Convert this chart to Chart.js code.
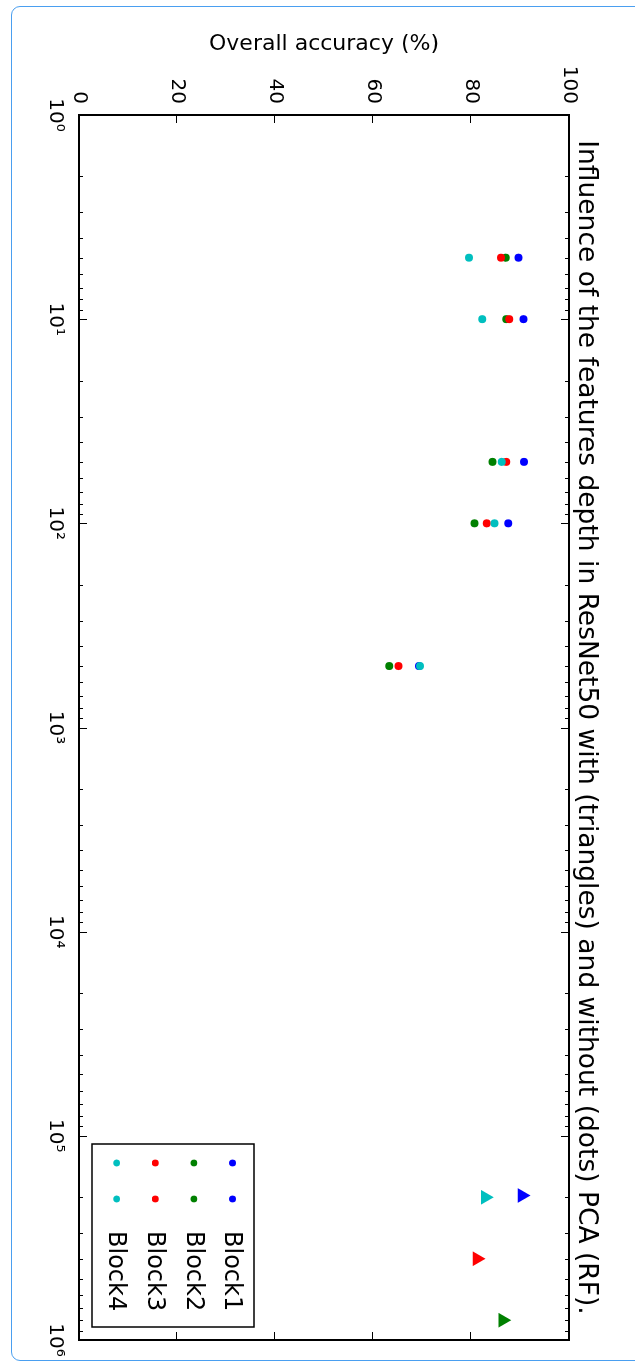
<!DOCTYPE html>
<html>
<head>
<meta charset="utf-8">
<script src="https://cdn.jsdelivr.net/npm/chart.js@4"></script>
<style>
  html, body { margin: 0; padding: 0; background: #fff; overflow: hidden; }
  body { width: 635px; height: 1362px; position: relative; }
  #frame {
    position: absolute; left: 11px; top: 6px; width: 700px; height: 1353px;
    border: 1px solid #4a9ff0; border-radius: 9px;
  }
  /* the figure is drawn lying down and turned a quarter clockwise */
  #wrap {
    position: absolute; left: 0; top: 0; width: 1362px; height: 635px;
    transform-origin: 0 0; transform: translateX(635px) rotate(90deg);
  }
</style>
</head>
<body>
<div id="frame"></div>
<div id="wrap"><canvas id="myChart" width="1362" height="635"></canvas></div>
<script>
// data
const blockNames = ['Block1', 'Block2', 'Block3', 'Block4']
const pcaDims = [5, 10, 50, 100, 500]
const block1Acc = [89.7, 90.7, 90.8, 87.6, 69.4]
const block2Acc = [87.1, 87.2, 84.4, 80.7, 63.3]
const block3Acc = [86.1, 87.8, 87.2, 83.2, 65.2]
const block4Acc = [79.6, 82.3, 86.3, 84.8, 69.6]
// without PCA (triangles), one per block
const rawDims = [196000, 800000, 400000, 200000]
const rawAcc = [90.4, 86.5, 81.2, 82.9]
const accTicks = [0, 20, 40, 60, 80, 100]
const dimTicks = [1, 10, 100, 1000, 10000, 100000, 1000000]

const blockColors = ['#0000ff', '#008000', '#ff0000', '#00bfbf']
const sup = ['⁰', '¹', '²', '³', '⁴', '⁵', '⁶', '⁷', '⁸', '⁹']
const FONT = 'DejaVu Sans'

const accByBlock = [block1Acc, block2Acc, block3Acc, block4Acc]

let datasets = []
accByBlock.forEach((acc, i) => {
  datasets.push({
    label: blockNames[i],
    data: pcaDims.map((d, j) => ({ x: d, y: acc[j] })),
    pointStyle: 'circle',
    pointRadius: 4,
    backgroundColor: blockColors[i],
    borderWidth: 0,
    showLine: false,
    order: 10 - i
  })
  datasets.push({
    label: blockNames[i] + ' raw',
    data: [{ x: rawDims[i], y: rawAcc[i] }],
    pointStyle: 'triangle',
    pointRadius: 8.5,
    backgroundColor: blockColors[i],
    borderWidth: 0,
    showLine: false,
    order: 10 - i
  })
})

// box, inward ticks on all four sides and the two-marker legend
const framePlugin = {
  id: 'frame',
  afterDatasetsDraw(chart) {
    const ctx = chart.ctx
    const a = chart.chartArea
    const xs = chart.scales.x
    const ys = chart.scales.y
    ctx.save()
    ctx.strokeStyle = '#000'

    ctx.lineWidth = 1
    accTicks.forEach(v => {
      const py = Math.round(ys.getPixelForValue(v)) + 0.5
      ctx.beginPath()
      ctx.moveTo(a.left, py); ctx.lineTo(a.left + 8, py)
      ctx.moveTo(a.right, py); ctx.lineTo(a.right - 8, py)
      ctx.stroke()
    })
    for (let k = 0; k < dimTicks.length; k++) {
      const base = dimTicks[k]
      const px = Math.round(xs.getPixelForValue(base)) + 0.5
      ctx.beginPath()
      ctx.moveTo(px, a.bottom); ctx.lineTo(px, a.bottom - 8)
      ctx.moveTo(px, a.top); ctx.lineTo(px, a.top + 8)
      ctx.stroke()
      if (k === dimTicks.length - 1) break
      for (let m = 2; m <= 9; m++) {
        const mx = Math.round(xs.getPixelForValue(base * m)) + 0.5
        ctx.beginPath()
        ctx.moveTo(mx, a.bottom); ctx.lineTo(mx, a.bottom - 4)
        ctx.moveTo(mx, a.top); ctx.lineTo(mx, a.top + 4)
        ctx.stroke()
      }
    }

    ctx.lineWidth = 2
    ctx.strokeRect(a.left, a.top, a.right - a.left, a.bottom - a.top)

    // legend, lower right
    const w = 183, h = 162
    const lx = a.right - 13 - w
    const ly = a.bottom - 13 - h
    ctx.fillStyle = '#fff'
    ctx.fillRect(lx, ly, w, h)
    ctx.lineWidth = 1.5
    ctx.strokeRect(lx, ly, w, h)
    ctx.font = '24px "' + FONT + '"'
    ctx.textBaseline = 'middle'
    ctx.textAlign = 'left'
    blockNames.forEach((name, i) => {
      const ry = ly + 21.5 + i * 38.6
      ctx.fillStyle = blockColors[i]
      ;[19, 55].forEach(dx => {
        ctx.beginPath()
        ctx.arc(lx + dx, ry, 3.4, 0, Math.PI * 2)
        ctx.fill()
      })
      ctx.fillStyle = '#000'
      ctx.fillText(name, lx + 87, ry + 1)
    })
    ctx.restore()
  }
}

function chart() {
  const find = document.getElementById('myChart')
  let myChart = new Chart(find, {
    type: 'scatter',
    data: { datasets: datasets },
    options: {
      responsive: false,
      animation: false,
      devicePixelRatio: 1,
      layout: { padding: { left: 0, right: 22, top: 0, bottom: 0 } },
      plugins: {
        legend: { display: false },
        tooltip: { enabled: false },
        title: {
          display: true,
          fullSize: false,
          text: 'Influence of the features depth in ResNet50 with (triangles) and without (dots) PCA (RF).',
          color: '#000',
          font: { family: FONT, size: 26.5, weight: 'normal' },
          padding: { top: 33, bottom: 1.2 }
        }
      },
      scales: {
        x: {
          type: 'logarithmic',
          min: 1,
          max: 1000000,
          grid: { display: false, drawTicks: false },
          border: { display: false },
          afterBuildTicks: (scale) => { scale.ticks = dimTicks.map(v => ({ value: v })) },
          afterFit: (scale) => {
            scale.height = 79
            scale.paddingLeft = 0
            scale.paddingRight = 0
          },
          ticks: {
            autoSkip: false,
            maxRotation: 0,
            padding: 12,
            color: '#000',
            font: { family: FONT, size: 20 },
            callback: (v) => '10' + sup[Math.round(Math.log10(v))]
          }
        },
        y: {
          min: 0,
          max: 100,
          grid: { display: false, drawTicks: false },
          border: { display: false },
          afterBuildTicks: (scale) => { scale.ticks = accTicks.map(v => ({ value: v })) },
          afterFit: (scale) => {
            scale.width = 115
            scale.paddingTop = 0
            scale.paddingBottom = 0
          },
          ticks: {
            padding: 11,
            color: '#000',
            font: { family: FONT, size: 20 }
          },
          title: {
            display: true,
            text: 'Overall accuracy (%)',
            color: '#000',
            font: { family: FONT, size: 22 },
            padding: { top: 31, bottom: 0 }
          }
        }
      }
    },
    plugins: [framePlugin]
  })
}

window.addEventListener('DOMContentLoaded', (event) => {
  chart()
})
</script>
</body>
</html>
